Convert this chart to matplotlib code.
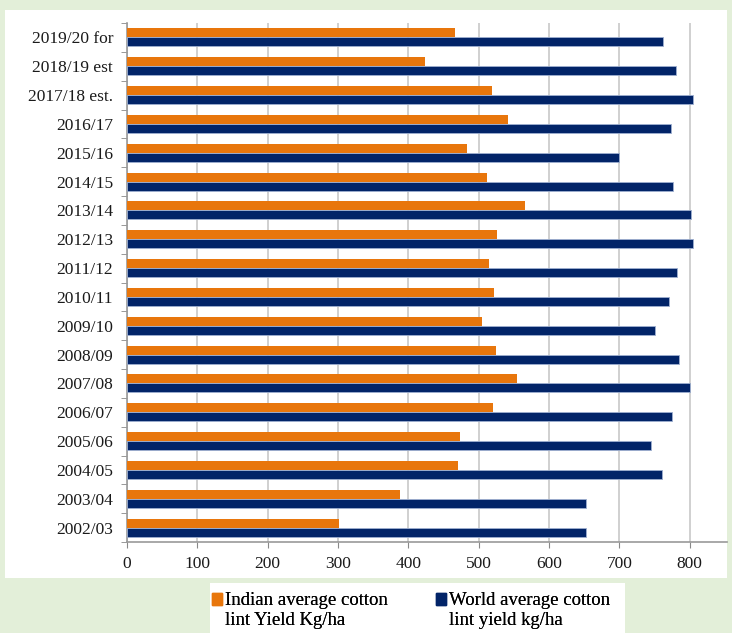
import numpy as np
import matplotlib.pyplot as plt
from matplotlib.patches import Rectangle

# ── Data ─────────────────────────────────────────────────────
seasons = [
    "2019/20 for", "2018/19 est", "2017/18 est.", "2016/17", "2015/16",
    "2014/15", "2013/14", "2012/13", "2011/12", "2010/11", "2009/10",
    "2008/09", "2007/08", "2006/07", "2005/06", "2004/05", "2003/04",
    "2002/03",
]
india_yield = [466, 424, 519, 541, 484, 512, 566, 526, 514, 522, 504,
               525, 555, 521, 473, 471, 388, 302]
world_yield = [762, 780, 805, 774, 700, 776, 802, 804, 782, 771, 750,
               785, 800, 775, 745, 761, 653, 653]
x_ticks = [0, 100, 200, 300, 400, 500, 600, 700, 800]

india_label = "Indian average cotton\nlint Yield Kg/ha"
world_label = "World average cotton\nlint yield kg/ha"

ORANGE = "#e8760c"
NAVY = "#022468"
BG = "#e3efd9"

plt.rcParams['font.family'] = ['Liberation Serif', 'DejaVu Serif']

fig = plt.figure(figsize=(7.32, 6.33), dpi=100, facecolor=BG)
W, H = 732, 633

# white panel behind the chart
fig.patches.append(Rectangle((5 / W, 1 - 578 / H), 722 / W, 568 / H,
                             transform=fig.transFigure, facecolor='white',
                             edgecolor='none', zorder=-10))

ax = fig.add_axes([127 / W, 1 - 542 / H, 600 / W, 519 / H])
ax.set_facecolor('white')

y = np.arange(len(seasons))
h = 0.31
ax.barh(y - h / 2, india_yield, height=h, color=ORANGE, zorder=3)
ax.barh(y + h / 2, world_yield, height=h, color=NAVY, zorder=3,
        edgecolor='#9fb0d0', linewidth=0.6)

ax.set_ylim(len(seasons) - 0.5, -0.5)
ax.set_xlim(0, 853)

ax.set_xticks(x_ticks)
ax.set_xticklabels([str(v) for v in x_ticks], fontsize=12.5, color='#1a1a1a')
ax.set_yticks(y)
ax.set_yticklabels(seasons, fontsize=12.5, color='#1a1a1a')
ax.tick_params(axis='y', length=0, pad=10)
ax.set_yticks(np.arange(len(seasons) + 1) - 0.5, minor=True)
ax.tick_params(axis='y', which='minor', length=4, color='#888888')
ax.tick_params(axis='x', length=4, color='#888888', pad=6)

ax.grid(axis='x', color='#c8c8c8', linewidth=1.2, zorder=0)
ax.set_axisbelow(True)
for side in ['top', 'right']:
    ax.spines[side].set_visible(False)
for side in ['left', 'bottom']:
    ax.spines[side].set_color('#999999')
    ax.spines[side].set_linewidth(1.2)

# legend in its own white box, one entry per column
fig.patches.append(Rectangle((210 / W, 0), 415 / W, 50 / H,
                             transform=fig.transFigure, facecolor='white',
                             edgecolor='none', zorder=-10))
entries = [(ORANGE, india_label, 212), (NAVY, world_label, 436)]
for color, label, x0 in entries:
    leg = fig.legend([Rectangle((0, 0), 1, 1, color=color)], [label],
                     loc='upper left', bbox_to_anchor=(x0 / W, 1 - 592 / H),
                     fontsize=13.5, frameon=False,
                     handlelength=0.55, handleheight=0.55, handletextpad=0.15,
                     borderpad=0, borderaxespad=0)
    for hd in leg.legend_handles:
        hd.set_y(hd.get_y() + 8)
    fig.add_artist(leg)

fig.savefig("out.png", dpi=100, facecolor=BG)
